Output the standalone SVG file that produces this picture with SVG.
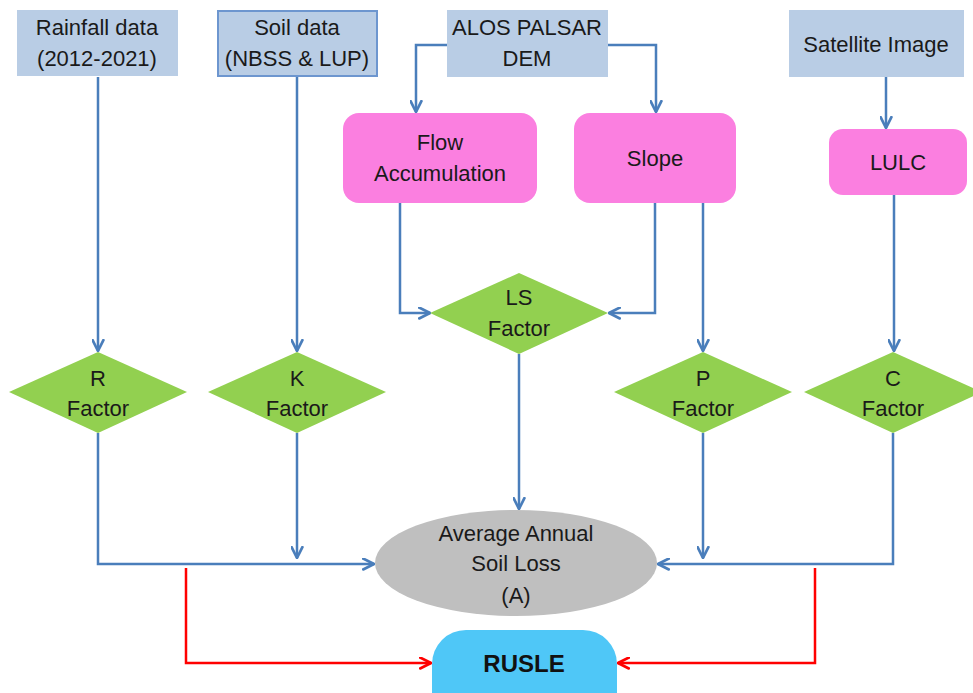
<svg xmlns="http://www.w3.org/2000/svg" width="973" height="693" viewBox="0 0 973 693">
<defs>
<marker id="ab" viewBox="0 0 12 12" refX="11" refY="6" markerWidth="13" markerHeight="13" markerUnits="userSpaceOnUse" orient="auto">
<path d="M1,1 L11,6 L1,11" fill="none" stroke="#4a7ebb" stroke-width="2.5" stroke-linejoin="round" stroke-linecap="round"/>
</marker>
<marker id="ar" viewBox="0 0 12 12" refX="11" refY="6" markerWidth="13" markerHeight="13" markerUnits="userSpaceOnUse" orient="auto">
<path d="M1,1 L11,6 L1,11" fill="none" stroke="#ff0000" stroke-width="2.5" stroke-linejoin="round" stroke-linecap="round"/>
</marker>
</defs>
<style>
text{font-family:"Liberation Sans",Arial,sans-serif;font-size:22px;fill:#1a1a1a;text-anchor:middle}
.src{fill:#b9cde5}
.proc{fill:#fb7fe0}
.dia{fill:#92d050}
.blue{fill:none;stroke:#4a7ebb;stroke-width:2.5;marker-end:url(#ab)}
.red{fill:none;stroke:#ff0000;stroke-width:2.5;marker-end:url(#ar)}
</style>
<rect width="973" height="693" fill="#ffffff"/>
<g id="connectors">
<path class="blue" d="M98,77 V351"/>
<path class="blue" d="M297,77 V351"/>
<path class="blue" d="M447,45 H416 V112"/>
<path class="blue" d="M608,45 H656 V112"/>
<path class="blue" d="M400,203 V313 H430"/>
<path class="blue" d="M655,203 V313 H609"/>
<path class="blue" d="M703,203 V351"/>
<path class="blue" d="M886,77 V128"/>
<path class="blue" d="M894,195 V351"/>
<path class="blue" d="M519,354 V509"/>
<path class="blue" d="M98,433 V564 H374"/>
<path class="blue" d="M297,433 V558"/>
<path class="blue" d="M703,433 V558"/>
<path class="blue" d="M893,433 V564 H658"/>
<path class="red" d="M186,568 V663 H431"/>
<path class="red" d="M815,568 V663 H618"/>
</g>
<g id="rainfall">
<rect class="src" x="17" y="10" width="161" height="66"/>
<text x="97" y="35">Rainfall data</text>
<text x="97" y="66">(2012-2021)</text>
</g>
<g id="soil">
<rect class="src" x="218" y="11" width="159" height="65" stroke="#6d96cf" stroke-width="2"/>
<text x="297" y="35">Soil data</text>
<text x="297" y="66">(NBSS &amp; LUP)</text>
</g>
<g id="alos">
<rect class="src" x="447" y="10" width="161" height="67"/>
<text x="527" y="35">ALOS PALSAR</text>
<text x="527" y="66">DEM</text>
</g>
<g id="satellite">
<rect class="src" x="789" y="10" width="175" height="67"/>
<text x="876" y="52">Satellite Image</text>
</g>
<g id="flow">
<rect class="proc" x="343" y="113" width="194" height="90" rx="16"/>
<text x="440" y="150">Flow</text>
<text x="440" y="181">Accumulation</text>
</g>
<g id="slope">
<rect class="proc" x="574" y="113" width="162" height="90" rx="16"/>
<text x="655" y="166">Slope</text>
</g>
<g id="lulc">
<rect class="proc" x="829" y="129" width="138" height="66" rx="14"/>
<text x="898" y="170">LULC</text>
</g>
<g id="ls">
<polygon class="dia" points="519,273 608,313 519,354 430,313"/>
<text x="519" y="305">LS</text>
<text x="519" y="336">Factor</text>
</g>
<g id="r">
<polygon class="dia" points="98,352 187,392 98,433 9,392"/>
<text x="98" y="386">R</text>
<text x="98" y="416">Factor</text>
</g>
<g id="k">
<polygon class="dia" points="297,352 386,392 297,433 208,392"/>
<text x="297" y="386">K</text>
<text x="297" y="416">Factor</text>
</g>
<g id="p">
<polygon class="dia" points="703,352 792,392 703,433 614,392"/>
<text x="703" y="386">P</text>
<text x="703" y="416">Factor</text>
</g>
<g id="c">
<polygon class="dia" points="893,352 982,392 893,433 804,392"/>
<text x="893" y="386">C</text>
<text x="893" y="416">Factor</text>
</g>
<g id="soilloss">
<ellipse cx="516" cy="563" rx="141" ry="53" fill="#bfbfbf"/>
<text x="516" y="541">Average Annual</text>
<text x="516" y="571">Soil Loss</text>
<text x="516" y="603">(A)</text>
</g>
<g id="rusle">
<rect x="432" y="630" width="185" height="96" rx="34" fill="#4fc7f7"/>
<text x="524" y="672" style="font-weight:bold;font-size:24px;fill:#111">RUSLE</text>
</g>
</svg>
